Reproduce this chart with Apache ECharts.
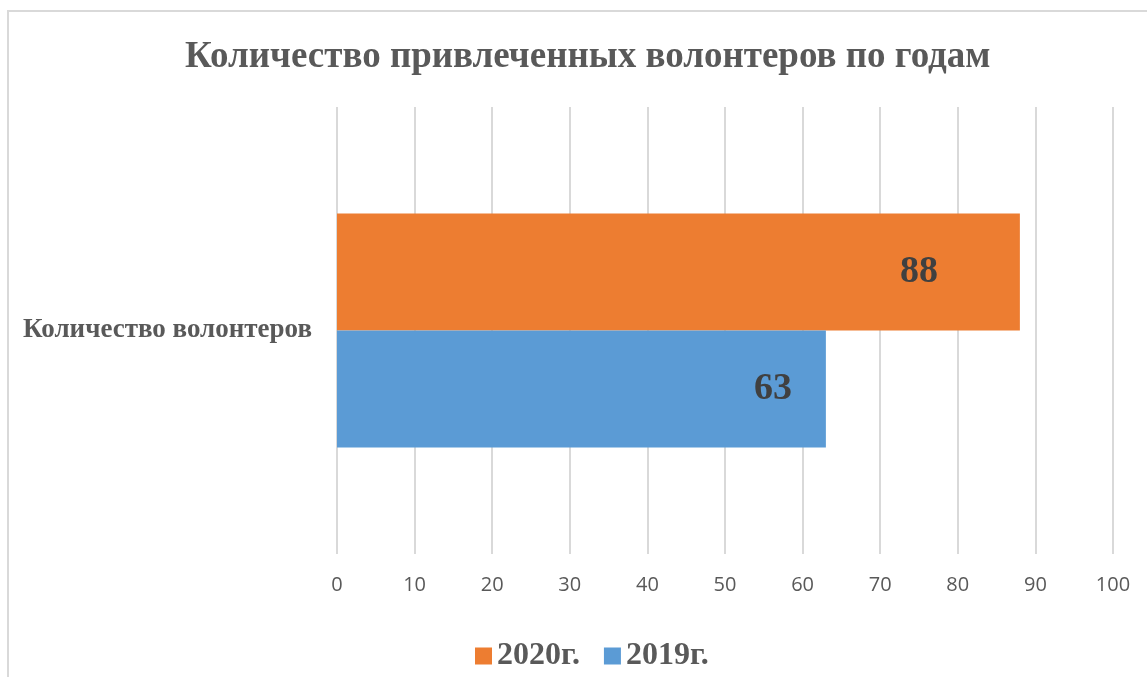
<!DOCTYPE html>
<html>
<head>
<meta charset="utf-8">
<script src="https://cdn.jsdelivr.net/npm/echarts@6/dist/echarts.min.js"></script>
<style>
  html, body { margin: 0; padding: 0; background: #fff; }
  #chart { width: 1147px; height: 677px; }
</style>
</head>
<body>
<div id="chart"></div>
<script>
var categories = ['Количество волонтеров'];
var values2019 = [63];
var values2020 = [88];
var legendNames = ['2020г.', '2019г.'];

var chart = echarts.init(document.getElementById('chart'), null, { renderer: 'canvas' });

var serif = '"Liberation Serif", "DejaVu Serif", serif';

var option = {
  backgroundColor: '#fff',
  animation: false,
  graphic: [{
    type: 'rect',
    shape: { x: 8, y: 11, width: 1200, height: 700 },
    style: { fill: 'none', stroke: '#d9d9d9', lineWidth: 2 },
    silent: true
  }],
  title: {
    text: 'Количество привлеченных волонтеров по годам',
    left: 180,
    top: 34,
    textStyle: { fontFamily: serif, fontWeight: 'bold', fontSize: 37, color: '#595959' }
  },
  legend: {
    data: legendNames,
    bottom: 0,
    left: 470,
    icon: 'rect',
    itemWidth: 17,
    itemHeight: 17,
    itemGap: 24,
    textStyle: { fontFamily: serif, fontWeight: 'bold', fontSize: 32, color: '#595959' }
  },
  grid: { left: 337, right: 34, top: 107, bottom: 123, containLabel: false },
  xAxis: {
    type: 'value',
    min: 0,
    max: 100,
    interval: 10,
    axisLine: { show: false },
    axisTick: { show: false },
    axisLabel: { fontFamily: '"Open Sans", sans-serif', fontSize: 20, color: '#595959', margin: 21 },
    splitLine: { lineStyle: { color: '#d9d9d9', width: 2 } }
  },
  yAxis: {
    type: 'category',
    data: categories,
    axisLine: { show: false },
    axisTick: { show: false },
    axisLabel: { fontFamily: serif, fontWeight: 'bold', fontSize: 27, color: '#595959', margin: 25 }
  },
  series: [
    {
      name: '2020г.',
      type: 'bar',
      data: values2020,
      barWidth: 117,
      barGap: '0%',
      itemStyle: { color: '#ed7d31' },
      label: {
        show: true,
        position: 'insideRight',
        distance: 82,
        fontFamily: serif, fontWeight: 'bold', fontSize: 38, color: '#404040'
      }
    },
    {
      name: '2019г.',
      type: 'bar',
      data: values2019,
      barWidth: 117,
      barGap: '0%',
      itemStyle: { color: '#5b9bd5' },
      label: {
        show: true,
        position: 'insideRight',
        distance: 34,
        fontFamily: serif, fontWeight: 'bold', fontSize: 38, color: '#404040'
      }
    }
  ]
};

chart.setOption(option);
</script>
</body>
</html>
